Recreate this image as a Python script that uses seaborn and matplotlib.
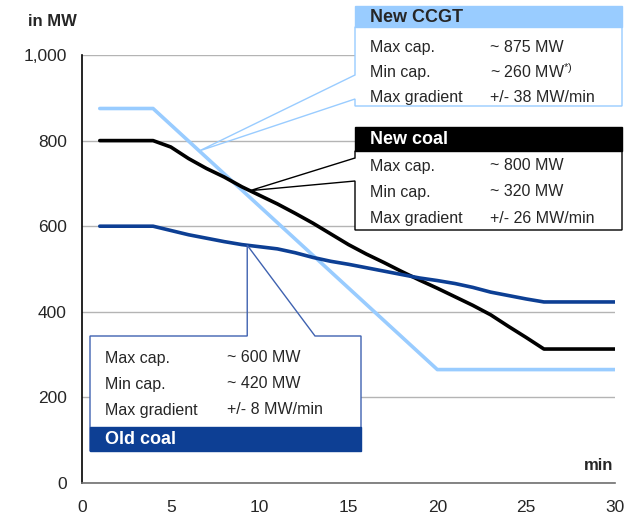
import numpy as np
import pandas as pd
import matplotlib.pyplot as plt
import seaborn as sns
from matplotlib.patches import Polygon, Rectangle

# Datos (minutos -> MW)
minutes_ccgt = [1, 4, 20, 30]
mw_ccgt = [875, 875, 265, 265]

minutes_coal = [1, 4] + list(range(5, 27)) + [30]
mw_new_coal = [800, 800, 785, 758, 735, 715, 692, 672, 652, 630, 607, 582, 557,
               535, 515, 494, 474, 455, 435, 415, 393, 366, 340, 313, 313]
mw_old_coal = [600, 600, 590, 580, 572, 564, 557, 552, 547, 538, 527, 518, 511,
               503, 495, 487, 479, 473, 466, 457, 446, 438, 430, 423, 423]

units = ["New CCGT", "New coal", "Old coal"]
colors = {"New CCGT": "#99CCFF", "New coal": "#000000", "Old coal": "#0D3F94"}
box_rows = {
    "New CCGT": [("Max cap.", "~ 875 MW"), ("Min cap.", "~ 260 MW$^{*)}$"),
                 ("Max gradient", "+/- 38 MW/min")],
    "New coal": [("Max cap.", "~ 800 MW"), ("Min cap.", "~ 320 MW"),
                 ("Max gradient", "+/- 26 MW/min")],
    "Old coal": [("Max cap.", "~ 600 MW"), ("Min cap.", "~ 420 MW"),
                 ("Max gradient", "+/- 8 MW/min")],
}
y_ticks = [0, 200, 400, 600, 800, 1000]
y_ticklabels = ["0", "200", "400", "600", "800", "1,000"]
x_ticks = [0, 5, 10, 15, 20, 25, 30]

df = pd.concat([
    pd.DataFrame({"min": minutes_ccgt, "MW": mw_ccgt, "unit": "New CCGT"}),
    pd.DataFrame({"min": minutes_coal, "MW": mw_new_coal, "unit": "New coal"}),
    pd.DataFrame({"min": minutes_coal, "MW": mw_old_coal, "unit": "Old coal"}),
])

sns.set_style("white")
plt.rcParams["font.family"] = ["Liberation Sans", "DejaVu Sans"]
plt.rcParams["mathtext.fontset"] = "custom"
plt.rcParams["mathtext.rm"] = "Liberation Sans"
plt.rcParams["mathtext.it"] = "Liberation Sans"

W, H = 628, 521
BODY_FS = 11.5
HEAD_FS = 13
fig = plt.figure(figsize=(W / 100, H / 100), dpi=100)
ax = fig.add_axes([82 / W, 38 / H, 533 / W, 428 / H])


def fxy(px, py):
    return (px / W, 1 - py / H)


sns.lineplot(data=df, x="min", y="MW", hue="unit", hue_order=units,
             palette=colors, linewidth=2.6, legend=False, ax=ax, zorder=3)

ax.set_xlim(0, 30)
ax.set_ylim(0, 1000)
ax.set_xticks(x_ticks)
ax.set_yticks(y_ticks)
ax.set_yticklabels(y_ticklabels)
ax.set_xlabel("")
ax.set_ylabel("")
ax.grid(axis="y", color="#b4b4b4", linewidth=1.0, zorder=0)
for s in ["top", "right"]:
    ax.spines[s].set_visible(False)
ax.spines["left"].set_color("black")
ax.spines["left"].set_linewidth(1.2)
ax.spines["bottom"].set_color("#707070")
ax.spines["bottom"].set_linewidth(1.2)
ax.tick_params(axis="x", direction="inout", length=10, width=1.1, color="black",
               labelsize=12.5, pad=7)
ax.tick_params(axis="y", direction="out", length=6, width=1.0, color="#909090",
               labelsize=12.5, pad=5)

fig.text(*fxy(28, 22), "in MW", fontsize=12, fontweight="bold", va="center", ha="left")
fig.text(*fxy(613, 465), "min", fontsize=12, fontweight="bold", va="center", ha="right")


def anchor(t, xs, ys):
    v = np.interp(t, xs, ys)
    d = ax.transData.transform((t, v))
    return tuple(fig.transFigure.inverted().transform(d))


def body_fill(x0, y0, x1, y1):
    fig.add_artist(Rectangle(fxy(x0, y1), (x1 - x0) / W, (y1 - y0) / H,
                             facecolor="white", edgecolor="none",
                             transform=fig.transFigure, zorder=5))


def rows(unit, lx, vx, ys):
    for (lab, val), ry in zip(box_rows[unit], ys):
        fig.text(*fxy(lx, ry), lab, fontsize=BODY_FS, va="center", zorder=8)
        fig.text(*fxy(vx, ry), val, fontsize=BODY_FS, va="center", zorder=8)


# New CCGT
a = anchor(6.6, minutes_ccgt, mw_ccgt)
body_fill(355, 27, 622, 106)
pts = [fxy(355, 27), fxy(355, 75), a, fxy(355, 99), fxy(355, 106), fxy(622, 106), fxy(622, 27)]
fig.add_artist(Polygon(pts, closed=True, facecolor="none", edgecolor="#99CCFF",
                       linewidth=1.0, transform=fig.transFigure, zorder=6))
fig.add_artist(Rectangle(fxy(355, 27), 267 / W, 21 / H, facecolor="#99CCFF",
                         edgecolor="#99CCFF", transform=fig.transFigure, zorder=7))
fig.text(*fxy(370, 17.5), "New CCGT", fontsize=HEAD_FS, fontweight="bold", va="center", zorder=8)
rows("New CCGT", 370, 490, [47, 72, 97])

# New coal
a = anchor(9.45, minutes_coal, mw_new_coal)
body_fill(355, 151, 622, 230)
pts = [fxy(355, 151), fxy(355, 158), a, fxy(355, 181), fxy(355, 230), fxy(622, 230), fxy(622, 151)]
fig.add_artist(Polygon(pts, closed=True, facecolor="none", edgecolor="black",
                       linewidth=1.0, transform=fig.transFigure, zorder=6))
fig.add_artist(Rectangle(fxy(355, 151), 267 / W, 24 / H, facecolor="black",
                         edgecolor="black", transform=fig.transFigure, zorder=7))
fig.text(*fxy(370, 139), "New coal", fontsize=HEAD_FS, fontweight="bold", color="white",
         va="center", zorder=8)
rows("New coal", 370, 490, [166, 192, 218])

# Old coal
a = anchor(9.3, minutes_coal, mw_old_coal)
body_fill(90, 336, 361, 451)
pts = [fxy(90, 336), (a[0], fxy(0, 336)[1]), a, fxy(315, 336), fxy(361, 336),
       fxy(361, 451), fxy(90, 451)]
fig.add_artist(Polygon(pts, closed=True, facecolor="none", edgecolor="#3F62B0",
                       linewidth=1.0, transform=fig.transFigure, zorder=6))
fig.add_artist(Rectangle(fxy(90, 451), 271 / W, 24 / H, facecolor="#0D3F94",
                         edgecolor="#0D3F94", transform=fig.transFigure, zorder=7))
fig.text(*fxy(105, 440), "Old coal", fontsize=HEAD_FS, fontweight="bold", color="white",
         va="center", zorder=8)
rows("Old coal", 105, 227, [358, 384, 410])

fig.savefig("out.png", dpi=100)
